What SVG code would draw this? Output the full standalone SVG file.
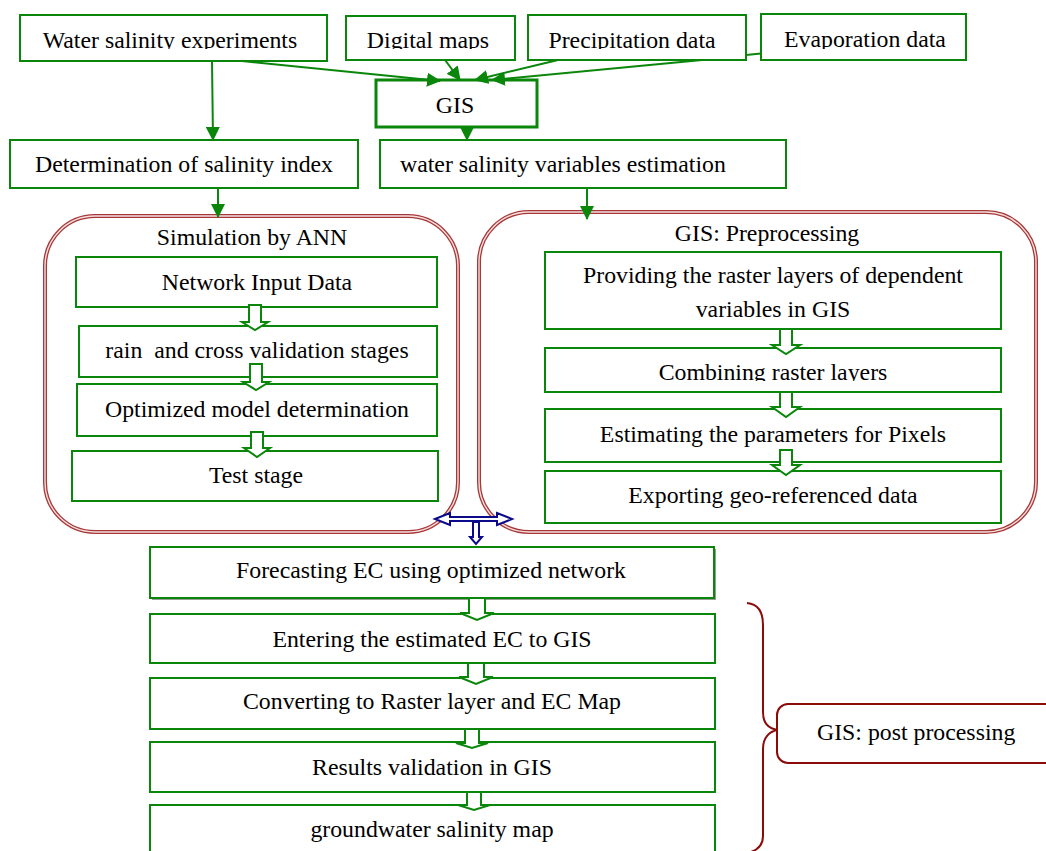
<svg xmlns="http://www.w3.org/2000/svg" width="1046" height="851" viewBox="0 0 1046 851">
<style>
  text { font-family: "Liberation Serif", "Times New Roman", serif; font-size: 23.8px; fill: #000; }
  .mid { text-anchor: middle; }
  .box { fill: #fff; stroke: #0a860a; stroke-width: 2; }
  .gis { fill: #fff; stroke: #0a860a; stroke-width: 3; }
  .cont { fill: none; stroke: #a83838; stroke-width: 4; }
  .contin { fill: none; stroke: #f4dede; stroke-width: 1.4; }
  .line { fill: none; stroke: #0a860a; stroke-width: 2; }
  .hollow { fill: #fff; stroke: #0a860a; stroke-width: 2; stroke-linejoin: miter; }
  .blue { fill: #fff; stroke: #0a0a8a; stroke-width: 2; }
  .brace { fill: none; stroke: #8b0a0a; stroke-width: 2; }
  .post { fill: #fff; stroke: #8b0a0a; stroke-width: 2; }
</style>
<defs>
  <marker id="ah" markerUnits="userSpaceOnUse" markerWidth="14" markerHeight="14" refX="13" refY="7" orient="auto">
    <path d="M0,0 L14,7 L0,14 z" fill="#0a860a"/>
  </marker>
  <clipPath id="clipTop"><rect x="0" y="0" width="1046" height="49"/></clipPath>
  <clipPath id="clipComb"><rect x="0" y="340" width="1046" height="41"/></clipPath>
</defs>
<rect x="0" y="0" width="1046" height="851" fill="#fff"/>

<g id="containers">
  <g id="ann">
    <rect class="cont" x="45" y="216" width="413" height="316" rx="50" ry="50"/>
    <rect class="contin" x="45" y="216" width="413" height="316" rx="50" ry="50"/>
    <text class="mid" x="252" y="245">Simulation by ANN</text>
  </g>
  <g id="preproc">
    <rect class="cont" x="479" y="212" width="557" height="320" rx="50" ry="50"/>
    <rect class="contin" x="479" y="212" width="557" height="320" rx="50" ry="50"/>
    <text class="mid" x="767" y="241">GIS: Preprocessing</text>
  </g>
</g>

<g id="n-wse"><rect class="box" x="20" y="15" width="307" height="46"/><text class="mid" x="170" y="48" clip-path="url(#clipTop)">Water salinity experiments</text></g>
<g id="n-dm"><rect class="box" x="346" y="16" width="169" height="44"/><text class="mid" x="428" y="48" clip-path="url(#clipTop)">Digital maps</text></g>
<g id="n-evap"><rect class="box" x="761" y="14" width="205" height="46"/><text class="mid" x="865" y="47" clip-path="url(#clipTop)">Evaporation data</text></g>
<g id="n-gis"><rect class="gis" x="376" y="80" width="161" height="47"/><text class="mid" x="455" y="113">GIS</text></g>
<g id="n-det"><rect class="box" x="10" y="140" width="348" height="48"/><text class="mid" x="184" y="172">Determination of salinity index</text></g>
<g id="n-wsv"><rect class="box" x="380" y="140" width="406" height="48"/><text x="400" y="172">water salinity variables estimation</text></g>

<g id="n-nid"><rect class="box" x="76" y="257" width="361" height="50"/><text class="mid" x="257" y="290">Network Input Data</text></g>
<g id="n-rain"><rect class="box" x="79" y="326" width="358" height="51"/><text class="mid" x="257" y="358" xml:space="preserve">rain  and cross validation stages</text></g>
<g id="n-opt"><rect class="box" x="77" y="384" width="360" height="52"/><text class="mid" x="257" y="417">Optimized model determination</text></g>
<g id="n-test"><rect class="box" x="72" y="451" width="366" height="50"/><text class="mid" x="256" y="483">Test stage</text></g>

<g id="n-prov"><rect class="box" x="545" y="252" width="456" height="77"/><text class="mid" x="773" y="283">Providing the raster layers of dependent</text><text class="mid" x="773" y="317">variables in GIS</text></g>
<g id="n-comb"><rect class="box" x="545" y="348" width="456" height="44"/><text class="mid" x="773" y="380" clip-path="url(#clipComb)">Combining raster layers</text></g>
<g id="n-est"><rect class="box" x="545" y="409" width="456" height="53"/><text class="mid" x="773" y="442">Estimating the parameters for Pixels</text></g>
<g id="n-exp"><rect class="box" x="545" y="471" width="456" height="52"/><text class="mid" x="773" y="503">Exporting geo-referenced data</text></g>

<g id="n-fore"><rect x="152" y="549" width="564" height="51" fill="#9a9a9a"/><rect class="box" x="150" y="547" width="564" height="51"/><text class="mid" x="431" y="578">Forecasting EC using optimized network</text></g>
<g id="n-ent"><rect class="box" x="150" y="614" width="565" height="49"/><text class="mid" x="432" y="647">Entering the estimated EC to GIS</text></g>
<g id="n-conv"><rect class="box" x="150" y="678" width="565" height="51"/><text class="mid" x="432" y="709">Converting to Raster layer and EC Map</text></g>
<g id="n-res"><rect class="box" x="150" y="742" width="565" height="50"/><text class="mid" x="432" y="775">Results validation in GIS</text></g>
<g id="n-gw"><rect class="box" x="150" y="805" width="565" height="60"/><text class="mid" x="432" y="837">groundwater salinity map</text></g>

<g id="n-post">
  <path class="brace" d="M747,603 C758,604 763,612 763,625 L763,712 C763,724 770,729 778,730 C770,731 763,737 763,749 L763,836 C763,846 757,851 747,853"/>
  <rect class="post" x="777" y="704" width="290" height="59" rx="11" ry="11"/>
  <text x="817" y="740">GIS: post processing</text>
</g>

<g id="connectors">
  <line class="line" x1="212" y1="61" x2="213" y2="140" marker-end="url(#ah)"/>
  <line class="line" x1="242" y1="61" x2="440" y2="81" marker-end="url(#ah)"/>
  <line class="line" x1="445" y1="60" x2="460" y2="80" marker-end="url(#ah)"/>
  <line class="line" x1="558" y1="60" x2="475" y2="80" marker-end="url(#ah)"/>
  <line class="line" x1="761" y1="53.5" x2="746" y2="55" />
  <line class="line" x1="702" y1="60" x2="492" y2="80" marker-end="url(#ah)"/>
  <line class="line" x1="467" y1="127" x2="467" y2="140" marker-end="url(#ah)"/>
  <line class="line" x1="218" y1="188" x2="218" y2="217" marker-end="url(#ah)"/>
  <line class="line" x1="587" y1="188" x2="587" y2="219" marker-end="url(#ah)"/>

  <polygon class="hollow" points="249,305 261,305 261,322 268,322 255,330 242,322 249,322"/>
  <polygon class="hollow" points="250,364 262,364 262,382 269,382 256,390 243,382 250,382"/>
  <polygon class="hollow" points="251,432 263,432 263,448 270,448 257,457 244,448 251,448"/>

  <polygon class="hollow" points="780,329 792,329 792,345 800,345 786,354 772,345 780,345"/>
  <polygon class="hollow" points="780,392 792,392 792,407 800,407 786,417 772,407 780,407"/>
  <polygon class="hollow" points="780,450 792,450 792,465 800,465 786,475 772,465 780,465"/>

  <polygon class="hollow" points="469,598 485,598 485,613 494,613 477,620 460,613 469,613"/>
  <polygon class="hollow" points="468,663 484,663 484,677 493,677 476,684 459,677 468,677"/>
  <polygon class="hollow" points="465,729 479,729 479,743 488,743 472,748 456,743 465,743"/>
  <polygon class="hollow" points="467,792 481,792 481,805 490,805 474,810 458,805 467,805"/>

  <polygon class="blue" points="435,519 450,513 450,517 497,517 497,513 512,519 497,525 497,521 450,521 450,525"/>
  <polygon class="blue" points="473,522 479,522 479,537 482,537 476,544 470,537 473,537"/>
</g>

<g id="n-precip"><rect class="box" x="528" y="15" width="218" height="45"/><text class="mid" x="632" y="48" clip-path="url(#clipTop)">Precipitation data</text></g>
</svg>
